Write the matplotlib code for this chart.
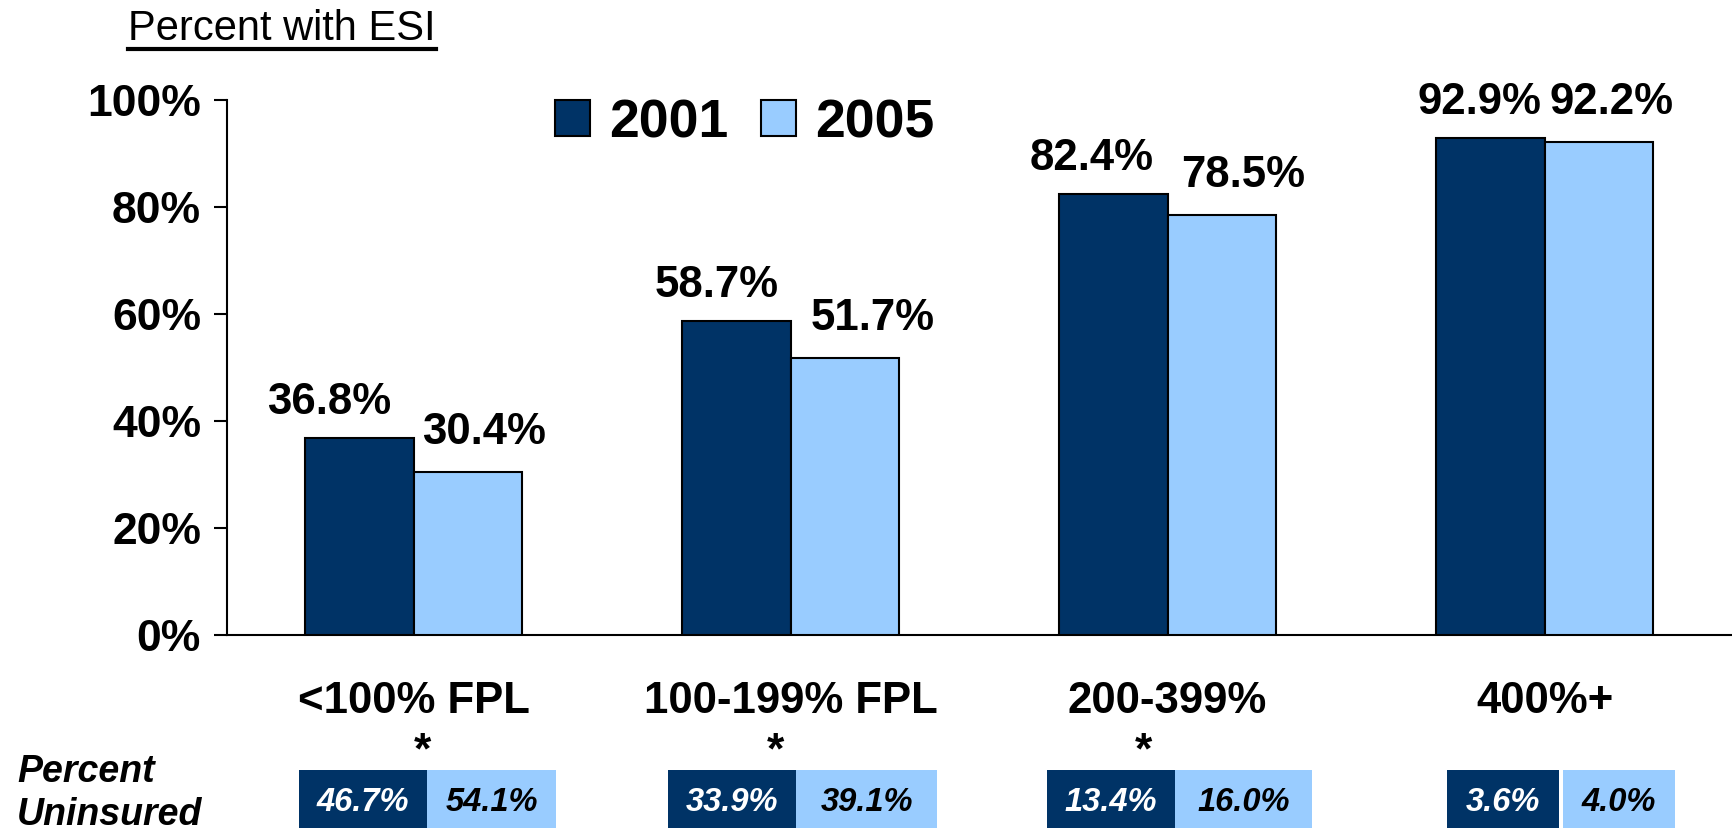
import matplotlib
matplotlib.use("Agg")
import matplotlib.pyplot as plt
from matplotlib.patches import Rectangle, Patch
from matplotlib.transforms import blended_transform_factory, offset_copy
from matplotlib.lines import Line2D

plt.rcParams['font.family'] = ['Liberation Sans', 'DejaVu Sans']

# ---- data ----
categories = ['<100% FPL', '100-199% FPL', '200-399%', '400%+']
series_names = ['2001', '2005']
esi_2001 = [36.8, 58.7, 82.4, 92.9]
esi_2005 = [30.4, 51.7, 78.5, 92.2]
uninsured_2001 = [46.7, 33.9, 13.4, 3.6]
uninsured_2005 = [54.1, 39.1, 16.0, 4.0]
significant = [True, True, True, False]
yticks = [0, 20, 40, 60, 80, 100]

# ---- style / layout ----
DARK = '#003366'
LIGHT = '#99CCFF'
W, H = 1733, 832
DPI = 100
bar_w = 0.288
label_dx_2001 = [-30, -20, -22, -11]   # px
label_dx_2005 = [16, 28, 21, 13]       # px
star_dx = [9, -15, -24, 0]             # px
# uninsured box edges relative to group centre (data units)
box_left = [-0.304, -0.325, -0.320, -0.259]
box_mid_a = [0.036, 0.015, 0.020, 0.038]
box_mid_b = [0.036, 0.015, 0.020, 0.049]
box_right = [0.378, 0.389, 0.383, 0.346]

fig = plt.figure(figsize=(W / DPI, H / DPI), dpi=DPI)
ax = fig.add_axes([227 / W, 1 - 635 / H, (W - 227) / W, 535 / H])

x = list(range(len(categories)))
ax.bar([i - bar_w / 2 for i in x], esi_2001, width=bar_w, color=DARK,
       edgecolor='black', linewidth=1.5, zorder=3)
ax.bar([i + bar_w / 2 for i in x], esi_2005, width=bar_w, color=LIGHT,
       edgecolor='black', linewidth=1.5, zorder=3)

ax.set_xlim(-0.495, 3.5)
ax.set_ylim(0, 100)
ax.set_yticks(yticks)
ax.set_yticklabels([f'{v}%' for v in yticks], fontsize=32, fontweight='bold')
ax.tick_params(axis='y', direction='out', length=9.4, width=1.5, pad=9.4)
ax.set_xticks([])
for s in ['top', 'right']:
    ax.spines[s].set_visible(False)
ax.spines['left'].set_linewidth(1.5)
ax.spines['bottom'].set_linewidth(1.5)

pt = 72 / DPI  # points per pixel

# value labels
for i in x:
    ax.annotate(f'{esi_2001[i]:.1f}%', (i - bar_w / 2, esi_2001[i]),
                xytext=(label_dx_2001[i] * pt, 24 * pt), textcoords='offset points',
                ha='center', va='baseline', fontsize=31.5, fontweight='bold')
    ax.annotate(f'{esi_2005[i]:.1f}%', (i + bar_w / 2, esi_2005[i]),
                xytext=(label_dx_2005[i] * pt, 28 * pt), textcoords='offset points',
                ha='center', va='baseline', fontsize=31.5, fontweight='bold')

# category labels, stars and uninsured boxes (x in data, y in figure px)
bt = blended_transform_factory(ax.transData, fig.transFigure)
def fy(px):
    return 1 - px / H

for i in x:
    ax.text(i, fy(713), categories[i], transform=bt, ha='center', va='baseline',
            fontsize=31.5, fontweight='bold', clip_on=False)
    if significant[i]:
        ax.text(i, fy(763), '*', transform=offset_copy(bt, fig=fig, x=star_dx[i] * pt, units='points'),
                ha='center', va='baseline', fontsize=32, fontweight='bold', clip_on=False)
    y0, y1 = fy(828), fy(770)
    r1 = Rectangle((i + box_left[i], y0), box_mid_a[i] - box_left[i], y1 - y0,
                   transform=bt, facecolor=DARK, edgecolor='none', clip_on=False)
    r2 = Rectangle((i + box_mid_b[i], y0), box_right[i] - box_mid_b[i], y1 - y0,
                   transform=bt, facecolor=LIGHT, edgecolor='none', clip_on=False)
    ax.add_patch(r1)
    ax.add_patch(r2)
    ax.text(i + (box_left[i] + box_mid_a[i]) / 2, fy(811), f'{uninsured_2001[i]:.1f}%',
            transform=bt, ha='center', va='baseline', fontsize=23.5, fontweight='bold',
            fontstyle='italic', color='white', clip_on=False)
    ax.text(i + (box_mid_b[i] + box_right[i]) / 2, fy(811), f'{uninsured_2005[i]:.1f}%',
            transform=bt, ha='center', va='baseline', fontsize=23.5, fontweight='bold',
            fontstyle='italic', color='black', clip_on=False)

fig.text(17 / W, fy(782), 'Percent', ha='left', va='baseline', fontsize=27,
         fontweight='bold', fontstyle='italic')
fig.text(17 / W, fy(825), 'Uninsured', ha='left', va='baseline', fontsize=27,
         fontweight='bold', fontstyle='italic')

# legend
handles = [Patch(facecolor=DARK, edgecolor='black', linewidth=1.5),
           Patch(facecolor=LIGHT, edgecolor='black', linewidth=1.5)]
fig.legend(handles, series_names, loc='upper left', bbox_to_anchor=(555 / W, fy(98)),
           ncol=2, frameon=False, borderpad=0, borderaxespad=0,
           handlelength=0.66, handleheight=0.66, handletextpad=0.36,
           columnspacing=0.6, prop={'size': 38.5, 'weight': 'bold'})

# title with underline
title = fig.text(128 / W, fy(40), 'Percent with ESI', ha='left', va='baseline', fontsize=30)
fig.canvas.draw()
bb = title.get_window_extent()
fig.add_artist(Line2D([bb.x0 / W, bb.x1 / W], [fy(49), fy(49)], transform=fig.transFigure,
                      color='black', linewidth=3))

fig.savefig('out.png', dpi=DPI)
